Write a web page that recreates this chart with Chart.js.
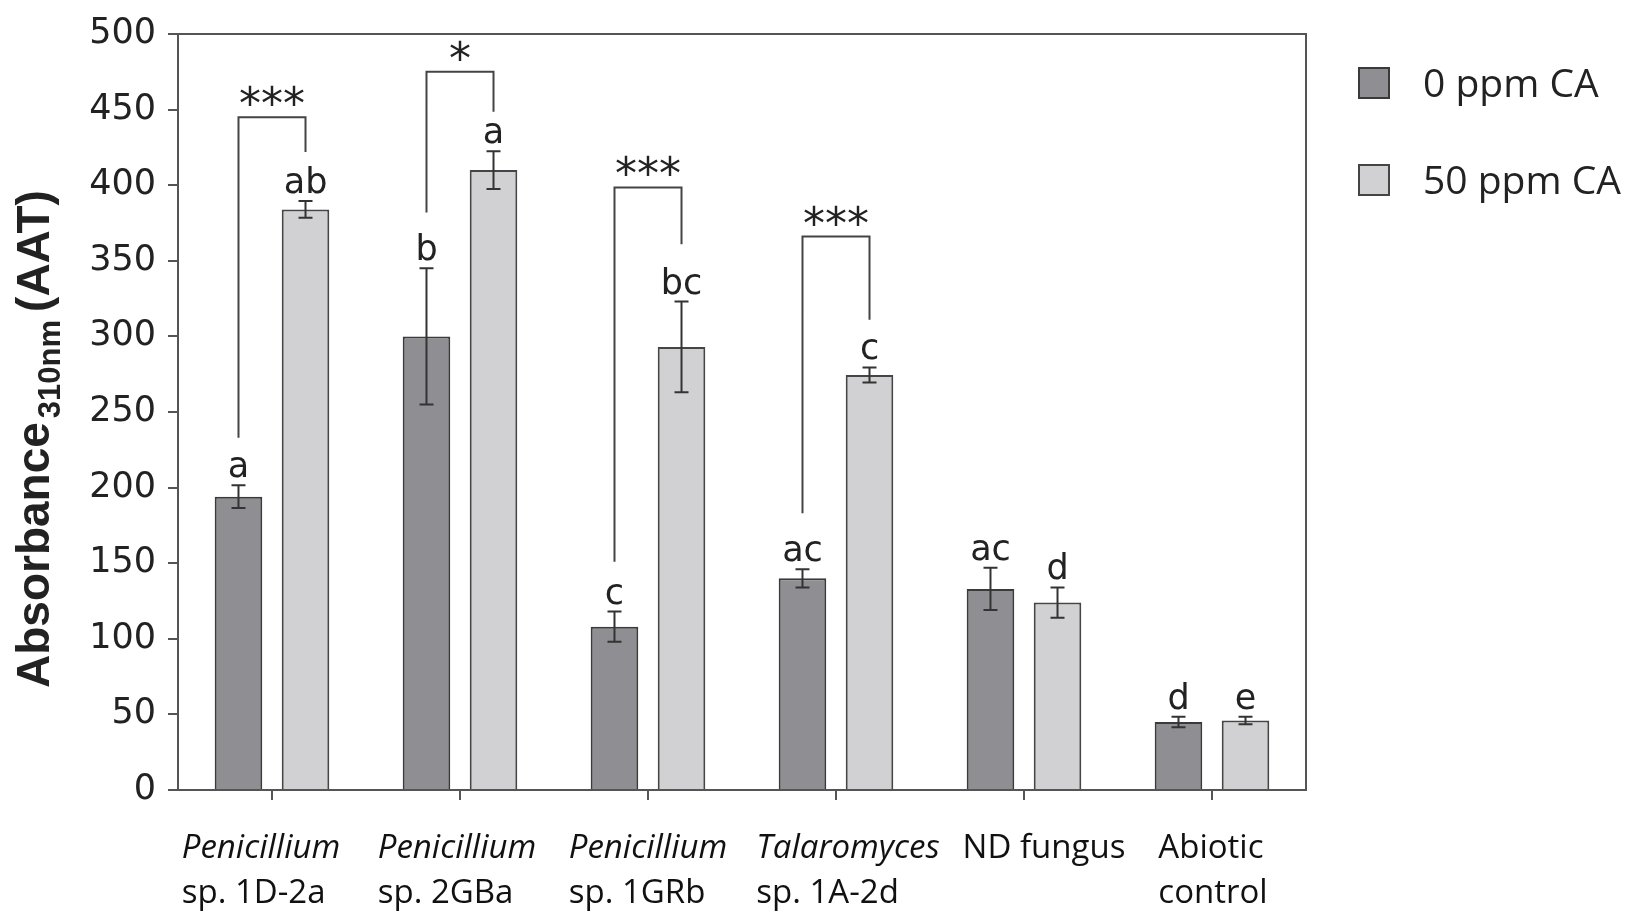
<!DOCTYPE html>
<html>
<head>
<meta charset="utf-8">
<script src="https://cdn.jsdelivr.net/npm/chart.js@4.4.1/dist/chart.umd.min.js"></script>
<style>
  html, body { margin: 0; padding: 0; background: #ffffff; }
  #wrap { width: 1631px; height: 914px; }
</style>
</head>
<body>
<div id="wrap"><canvas id="c" width="1631" height="914"></canvas></div>
<script>
// ---- data ----
const categories = [
  ['Penicillium', 'sp. 1D-2a'],
  ['Penicillium', 'sp. 2GBa'],
  ['Penicillium', 'sp. 1GRb'],
  ['Talaromyces', 'sp. 1A-2d'],
  ['ND fungus'],
  ['Abiotic', 'control']
];
const italicFirstLine = [true, true, true, true, false, false];
const seriesLabels = ['0 ppm CA', '50 ppm CA'];
const values0 = [194, 300, 108, 140, 133, 45];
const errors0 = [7.5, 45, 10, 6, 14, 3.5];
const values50 = [384, 410, 293, 274.5, 124, 46];
const errors50 = [5.5, 12.5, 30, 5, 10, 2.5];
const letters0 = ['a', 'b', 'c', 'ac', 'ac', 'd'];
const letters50 = ['ab', 'a', 'bc', 'c', 'd', 'e'];
const bracketGroups = [0, 1, 2, 3];
const bracketTop = [445, 475, 398.5, 366];
const bracketLeftEnd = [233, 382, 151, 183];
const bracketRightEnd = [422, 448.5, 361, 311];
const bracketStars = ['***', '*', '***', '***'];
const yTicks = [0, 50, 100, 150, 200, 250, 300, 350, 400, 450, 500];

// ---- layout / style constants (not data) ----
const AXIS = '#555555';
const INK = '#222222';
const labelNudge = [-11, -3, 0, 12, 20, 1];

const annotPlugin = {
  id: 'annot',
  afterDatasetsDraw(chart) {
    const ctx = chart.ctx;
    const y = chart.scales.y;
    const ca = chart.chartArea;
    const m0 = chart.getDatasetMeta(0).data;
    const m1 = chart.getDatasetMeta(1).data;
    ctx.save();

    // frame top + right
    ctx.strokeStyle = AXIS;
    ctx.lineWidth = 2;
    ctx.beginPath();
    ctx.moveTo(ca.left, ca.top);
    ctx.lineTo(ca.right, ca.top);
    ctx.lineTo(ca.right, ca.bottom);
    ctx.stroke();

    // error bars + letters
    const sets = [
      { meta: m0, vals: values0, errs: errors0, lets: letters0 },
      { meta: m1, vals: values50, errs: errors50, lets: letters50 }
    ];
    ctx.strokeStyle = '#333333';
    ctx.lineWidth = 2;
    ctx.fillStyle = INK;
    ctx.font = '35px "DejaVu Sans"';
    ctx.textAlign = 'center';
    ctx.textBaseline = 'alphabetic';
    sets.forEach(s => {
      s.vals.forEach((v, i) => {
        const x = s.meta[i].x;
        const yt = y.getPixelForValue(v + s.errs[i]);
        const yb = y.getPixelForValue(v - s.errs[i]);
        ctx.beginPath();
        ctx.moveTo(x, yt); ctx.lineTo(x, yb);
        ctx.moveTo(x - 7, yt); ctx.lineTo(x + 7, yt);
        ctx.moveTo(x - 7, yb); ctx.lineTo(x + 7, yb);
        ctx.stroke();
        ctx.fillText(s.lets[i], x, yt - 8);
      });
    });

    // significance brackets
    ctx.strokeStyle = '#444444';
    ctx.font = '44px "DejaVu Sans"';
    bracketGroups.forEach((g, k) => {
      const lx = m0[g].x, rx = m1[g].x;
      const yt = y.getPixelForValue(bracketTop[k]);
      ctx.beginPath();
      ctx.moveTo(lx, y.getPixelForValue(bracketLeftEnd[k]));
      ctx.lineTo(lx, yt);
      ctx.lineTo(rx, yt);
      ctx.lineTo(rx, y.getPixelForValue(bracketRightEnd[k]));
      ctx.stroke();
      ctx.fillText(bracketStars[k], (lx + rx) / 2, yt + 2);
    });

    // x category labels (left-aligned block centred under each group)
    const xs = chart.scales.x;
    ctx.fillStyle = '#111111';
    ctx.textAlign = 'left';
    categories.forEach((lines, i) => {
      const cx = xs.getPixelForValue(i);
      const fonts = lines.map((t, j) => ((j === 0 && italicFirstLine[i]) ? 'italic ' : '') + '33px "Open Sans"');
      let maxW = 0;
      lines.forEach((t, j) => { ctx.font = fonts[j]; maxW = Math.max(maxW, ctx.measureText(t).width); });
      const left = cx - maxW / 2 + labelNudge[i];
      lines.forEach((t, j) => {
        ctx.font = fonts[j];
        ctx.fillText(t, left, ca.bottom + 68 + j * 45);
      });
    });

    // y axis title (rotated, with subscript)
    ctx.save();
    ctx.translate(49, ca.bottom - 102);
    ctx.rotate(-Math.PI / 2);
    ctx.textAlign = 'left';
    ctx.fillStyle = '#222222';
    const mainFont = 'bold 46px "Liberation Sans"';
    const subFont = 'bold 31px "Liberation Sans"';
    ctx.font = mainFont;
    let px = 0;
    ctx.fillText('Absorbance', px, 0);
    px += ctx.measureText('Absorbance').width + 4;
    ctx.font = subFont;
    ctx.fillText('310nm', px, 11);
    px += ctx.measureText('310nm').width + 8;
    ctx.font = mainFont;
    ctx.fillText('(AAT)', px, 0);
    ctx.restore();

    // legend
    const legendTop = [68, 165];
    chart.data.datasets.forEach((ds, i) => {
      ctx.fillStyle = ds.backgroundColor;
      ctx.strokeStyle = ds.borderColor;
      ctx.lineWidth = 2;
      ctx.fillRect(1359, legendTop[i], 30, 30);
      ctx.strokeRect(1359, legendTop[i], 30, 30);
      ctx.fillStyle = '#222222';
      ctx.font = '39px "Open Sans"';
      ctx.textAlign = 'left';
      ctx.fillText(ds.label, 1423, legendTop[i] + 29);
    });

    ctx.restore();
  }
};

new Chart(document.getElementById('c'), {
  type: 'bar',
  data: {
    labels: categories.map(c => c.join(' ')),
    datasets: [
      { label: seriesLabels[0], data: values0, backgroundColor: '#8f8f93', borderColor: '#3a3a3a', borderWidth: 2 },
      { label: seriesLabels[1], data: values50, backgroundColor: '#d1d1d3', borderColor: '#454545', borderWidth: 2 }
    ]
  },
  options: {
    responsive: false,
    animation: false,
    devicePixelRatio: 1,
    categoryPercentage: 0.713,
    barPercentage: 0.71,
    layout: { padding: { left: 78, right: 325, top: 34, bottom: 0 } },
    plugins: { legend: { display: false }, tooltip: { enabled: false } },
    scales: {
      x: {
        grid: { display: true, drawOnChartArea: false, offset: false, tickLength: 10, color: AXIS, lineWidth: 2 },
        border: { display: true, color: AXIS, width: 2 },
        ticks: { display: false },
        afterFit: s => { s.height = 124; }
      },
      y: {
        min: 0, max: 500,
        afterBuildTicks: s => { s.ticks = yTicks.map(v => ({ value: v })); },
        ticks: { font: { family: 'DejaVu Sans', size: 35 }, color: INK, padding: 12 },
        grid: { drawOnChartArea: false, tickLength: 10, color: AXIS, lineWidth: 2 },
        border: { display: true, color: AXIS, width: 2 },
        afterFit: s => { s.width = 100; }
      }
    }
  },
  plugins: [annotPlugin]
});
</script>
</body>
</html>
